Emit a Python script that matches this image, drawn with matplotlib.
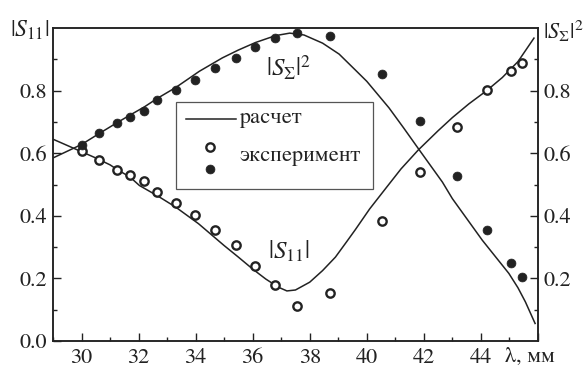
import numpy as np
import matplotlib
matplotlib.use('Agg')
from matplotlib import pyplot as plt
from matplotlib.ticker import MultipleLocator, FixedLocator

plt.rcParams['font.family'] = ['STIXGeneral', 'Liberation Serif', 'DejaVu Serif']
plt.rcParams['mathtext.fontset'] = 'stix'

INK = '#222222'

# calculated curves (wavelength, mm)
lam_s11 = [29.0, 29.5, 30.0, 30.5, 31.0, 31.25, 31.7, 32.03, 32.7, 33.3, 34.1,
           35.0, 35.5, 36.0, 36.46, 36.9, 37.2, 37.5, 38.0, 38.45, 38.9, 39.3,
           39.6, 40.1, 40.7, 41.2, 41.8, 42.5, 43.0, 43.58, 44.2, 44.75, 45.3, 45.86]
s11_calc = [0.645, 0.625, 0.605, 0.585, 0.563, 0.548, 0.524, 0.497, 0.462, 0.428, 0.375,
            0.305, 0.268, 0.230, 0.198, 0.172, 0.160, 0.163, 0.188, 0.225, 0.268, 0.318,
            0.356, 0.422, 0.492, 0.550, 0.610, 0.672, 0.714, 0.758, 0.800, 0.842, 0.893, 0.968]

lam_ss = [29.0, 30.0, 30.6, 31.25, 31.7, 32.2, 32.65, 33.3, 33.78, 34.13, 34.94,
          35.5, 36.1, 36.8, 37.3, 37.8, 38.45, 39.03, 39.6, 40.0, 40.78, 41.3,
          41.83, 42.65, 43.0, 44.05, 44.98, 45.3, 45.56, 45.9]
ss_calc = [0.585, 0.628, 0.662, 0.698, 0.722, 0.748, 0.775, 0.810, 0.840, 0.862, 0.905,
           0.930, 0.954, 0.976, 0.984, 0.978, 0.952, 0.917, 0.866, 0.830, 0.745, 0.680,
           0.612, 0.508, 0.455, 0.322, 0.216, 0.170, 0.125, 0.056]

# measured points
lam_exp = [30.0, 30.6, 31.25, 31.7, 32.18, 32.65, 33.3, 33.98, 34.68, 35.4,
           36.09, 36.8, 37.54, 38.71, 40.52, 41.88, 43.15, 44.22, 45.04, 45.43]
s11_exp = [0.607, 0.577, 0.547, 0.529, 0.512, 0.477, 0.442, 0.402, 0.356, 0.306,
           0.241, 0.178, 0.112, 0.152, 0.383, 0.541, 0.685, 0.802, 0.864, 0.890]
ss_exp = [0.628, 0.664, 0.697, 0.716, 0.735, 0.770, 0.803, 0.835, 0.872, 0.904,
          0.940, 0.968, 0.986, 0.975, 0.853, 0.704, 0.526, 0.354, 0.249, 0.205]

fig = plt.figure(figsize=(5.86, 3.70), dpi=100)
ax = fig.add_axes([0.0904, 0.0784, 0.8276, 0.8456])

ax.plot(lam_s11, s11_calc, color=INK, lw=1.1)
ax.plot(lam_ss, ss_calc, color=INK, lw=1.1)
ax.plot(lam_exp, s11_exp, 'o', ms=6.0, mfc='white', mec=INK, mew=1.7)
ax.plot(lam_exp, ss_exp, 'o', ms=6.4, mfc=INK, mec=INK, mew=0.5)

ax.set_xlim(29, 46)
ax.set_ylim(0, 1.0)

ax.xaxis.set_major_locator(FixedLocator([30, 32, 34, 36, 38, 40, 42, 44, 46]))
ax.xaxis.set_minor_locator(MultipleLocator(1))
ax.set_xticklabels(['30', '32', '34', '36', '38', '40', '42', '44', ''])
ax.yaxis.set_major_locator(FixedLocator([0.0, 0.2, 0.4, 0.6, 0.8]))
ax.yaxis.set_minor_locator(FixedLocator([0.1, 0.3, 0.5, 0.7, 0.9]))
ax.set_yticklabels(['0.0', '0.2', '0.4', '0.6', '0.8'])

ax2 = ax.twinx()
ax2.set_ylim(0, 1.0)
ax2.yaxis.set_major_locator(FixedLocator([0.2, 0.4, 0.6, 0.8]))
ax2.yaxis.set_minor_locator(FixedLocator([0.1, 0.3, 0.5, 0.7, 0.9]))
ax2.set_yticklabels(['0.2', '0.4', '0.6', '0.8'])

for a in (ax, ax2):
    for sp in a.spines.values():
        sp.set_linewidth(1.1)
        sp.set_color(INK)
    a.tick_params(which='major', direction='in', length=5.5, width=1.0,
                  colors=INK, labelsize=16, pad=4)
    a.tick_params(which='minor', direction='in', length=3, width=1.0, colors=INK)
ax.tick_params(which='both', top=False, right=False)
ax.tick_params(axis='x', pad=5)

# axis captions
ax.text(-0.049, 0.993, r'$|S_{11}|$', transform=ax.transAxes, fontsize=17,
        ha='center', va='center', color=INK)
ax.text(1.053, 0.99, r'$|S_\Sigma|^2$', transform=ax.transAxes, fontsize=16,
        ha='center', va='center', color=INK)
ax.text(0.984, -0.051, 'λ, мм', transform=ax.transAxes, fontsize=16,
        ha='center', va='center', color=INK)

# curve labels
ax.text(37.25, 0.87, r'$|S_\Sigma|^2$', fontsize=18, ha='center', va='center', color=INK)
ax.text(37.25, 0.284, r'$|S_{11}|$', fontsize=18, ha='center', va='center', color=INK)

# legend box
ax.add_patch(plt.Rectangle((0.253, 0.485), 0.407, 0.28, transform=ax.transAxes,
                           fill=False, ec='#555555', lw=0.9))
ax.plot([0.274, 0.377], [0.709, 0.709], color=INK, lw=1.1, transform=ax.transAxes)
ax.plot([0.324], [0.621], 'o', ms=6.0, mfc='white', mec=INK, mew=1.7, transform=ax.transAxes)
ax.plot([0.324], [0.550], 'o', ms=6.4, mfc=INK, mec=INK, mew=0.5, transform=ax.transAxes)
ax.text(0.384, 0.712, 'расчет', transform=ax.transAxes, fontsize=16,
        ha='left', va='center', color=INK)
ax.text(0.384, 0.592, 'эксперимент', transform=ax.transAxes, fontsize=16,
        ha='left', va='center', color=INK)

fig.savefig('out.png', dpi=100)
